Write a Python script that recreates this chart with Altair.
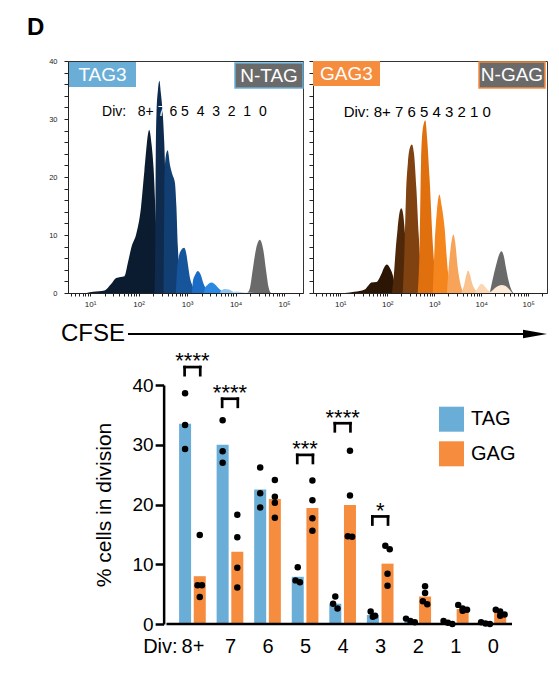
import math
import altair as alt
import pandas as pd

FONT = "Liberation Sans"

# ---------------- Histogram overlays (x = log10 CFSE, y = count) ----------------
TAG3_DIV_8P = [(0.93, 0), (1.06, 0.2), (1.30, 0.45), (1.43, 1.5), (1.54, 2.6), (1.71, 2.9), (1.78, 5.2),
               (1.86, 8.1), (1.95, 10.1), (2.05, 14.7), (2.12, 21.0), (2.22, 28.1), (2.27, 25.5),
               (2.31, 21.5), (2.36, 12.0), (2.42, 3.0), (2.46, 0)]
TAG3_DIV_7 = [(2.33, 0), (2.345, 10), (2.355, 24), (2.37, 31), (2.40, 35), (2.43, 36.6), (2.46, 34.5),
              (2.50, 30.8), (2.53, 26), (2.56, 18), (2.60, 8), (2.64, 2), (2.68, 0)]
TAG3_DIV_6 = [(2.515, 0), (2.525, 10), (2.535, 20), (2.56, 23.5), (2.60, 24.6), (2.65, 22), (2.70, 20.4),
              (2.75, 19.0), (2.78, 15), (2.81, 8), (2.84, 4), (2.88, 1), (2.92, 0)]
TAG3_DIV_5 = [(2.77, 0), (2.79, 3.5), (2.83, 6.2), (2.88, 7.4), (2.94, 7.8), (2.98, 7.0), (3.02, 4.8),
              (3.06, 2.6), (3.10, 1.5), (3.14, 0.6), (3.18, 0)]
TAG3_DIV_4 = [(3.10, 0), (3.12, 2.0), (3.16, 3.0), (3.22, 3.8), (3.28, 3.2), (3.34, 1.6), (3.38, 0.9),
              (3.42, 0.5), (3.46, 0)]
TAG3_DIV_3 = [(3.35, 0), (3.37, 0.9), (3.42, 1.4), (3.50, 1.8), (3.56, 1.6), (3.63, 1.0), (3.69, 0.5),
              (3.74, 0.2), (3.78, 0)]
TAG3_DIV_2 = [(3.68, 0), (3.70, 0.4), (3.78, 0.7), (3.86, 0.6), (3.93, 0.3), (4.00, 0.1), (4.04, 0)]
TAG3_DIV_1 = [(3.90, 0), (4.02, 0.25), (4.14, 0.15), (4.24, 0)]
TAG3_DIV_0 = [(4.10, 0), (4.25, 0.08), (4.40, 0)]
N_TAG = [(4.24, 0), (4.30, 1.0), (4.35, 3.8), (4.42, 7.5), (4.50, 9.2), (4.57, 7.5), (4.63, 3.8),
         (4.68, 1.0), (4.73, 0)]

GAG3_DIV_8P = [(1.10, 0), (1.30, 0.2), (1.52, 0.6), (1.60, 1.3), (1.66, 1.8), (1.77, 1.9), (1.87, 3.2),
               (1.94, 4.5), (1.99, 4.9), (2.05, 4.4), (2.12, 3.0), (2.17, 1.0), (2.20, 0)]
GAG3_DIV_7 = [(2.10, 0), (2.14, 3), (2.18, 7.5), (2.22, 11), (2.26, 13.8), (2.30, 14.6), (2.34, 13.5),
              (2.38, 10), (2.43, 5), (2.48, 1.5), (2.52, 0)]
GAG3_DIV_6 = [(2.33, 0), (2.37, 8.4), (2.40, 17), (2.44, 22.5), (2.48, 25), (2.525, 25.6), (2.57, 24),
              (2.62, 18), (2.67, 10), (2.72, 3.5), (2.77, 0)]
GAG3_DIV_5 = [(2.65, 0), (2.69, 8.4), (2.72, 22.8), (2.76, 28.5), (2.81, 29.8), (2.85, 26.5), (2.90, 19.9),
              (2.97, 8.4), (3.02, 3), (3.07, 0)]
GAG3_DIV_4 = [(2.97, 0), (3.01, 8.4), (3.05, 13.5), (3.11, 17), (3.16, 15), (3.22, 11.3), (3.29, 3.8),
              (3.34, 1), (3.38, 0)]
GAG3_DIV_3 = [(3.27, 0), (3.32, 5.5), (3.37, 9), (3.41, 10.1), (3.45, 8.5), (3.50, 4.4), (3.56, 1.5), (3.62, 0)]
GAG3_DIV_2 = [(3.58, 0), (3.64, 1.5), (3.68, 3.0), (3.72, 3.9), (3.76, 3.2), (3.81, 1.6), (3.87, 0.6), (3.93, 0)]
GAG3_DIV_1 = [(3.86, 0), (3.93, 0.9), (4.00, 1.6), (4.06, 1.3), (4.13, 0.6), (4.20, 0.2), (4.26, 0)]
GAG3_DIV_0 = [(4.18, 0), (4.26, 0.6), (4.34, 1.1), (4.43, 1.4), (4.52, 1.2), (4.60, 0.6), (4.66, 0)]
N_GAG = [(4.18, 0), (4.25, 2.6), (4.32, 4.9), (4.38, 6.6), (4.43, 7.2), (4.48, 6.4), (4.53, 4.2),
         (4.58, 2.2), (4.63, 0.8), (4.68, 0)]

HIST_TICK_VALUES = [1, 2, 3, 4, 5]
HIST_TICK_LABELS = ["10\u00b9", "10\u00b2", "10\u00b3", "10\u2074", "10\u2075"]
NB = "\u00a0"
TAG_HEADER_A = "Div:" + NB * 3 + "8+"
TAG_HEADER_7 = "7"
TAG_HEADER_B = "6" + NB + "5" + NB * 2 + "4" + NB * 2 + "3" + NB * 2 + "2" + NB * 2 + "1" + NB * 2 + "0"
GAG_HEADER = NB.join(["Div:", "8+", "7", "6", "5", "4", "3", "2", "1", "0"])

# ---------------- Bar chart: % cells in each division ----------------
DIVISIONS = ["8+", "7", "6", "5", "4", "3", "2", "1", "0"]
TAG_MEAN = [33.5, 30.0, 22.5, 7.9, 3.4, 1.5, 0.6, 0.3, 0.15]
GAG_MEAN = [8.0, 12.1, 20.9, 19.4, 19.9, 10.1, 4.6, 2.5, 1.9]
TAG_REPS = [[38.6, 33.3, 29.3], [34.1, 28.9, 27.0], [26.2, 21.9, 19.5], [9.5, 7.3, 7.0], [4.6, 3.4, 2.6],
            [2.1, 1.4, 1.2], [0.9, 0.5, 0.3], [0.5, 0.2, 0.0], [0.3, 0.1, 0.0]]
GAG_REPS = [[14.9, 6.5, 6.5, 4.5], [18.3, 14.5, 9.4, 6.1], [24.1, 21.3, 20.3, 17.8], [24.0, 20.7, 17.7, 15.6],
            [29.0, 21.5, 14.7, 14.6], [13.1, 12.5, 8.4, 6.4], [6.3, 5.2, 3.8, 3.3], [3.2, 2.6, 2.4, 2.2],
            [2.4, 2.1, 1.6, 1.4]]
SIG_DIVISIONS = ["8+", "7", "5", "4", "3"]
SIG_STARS = ["****", "****", "***", "****", "*"]
SIG_BRACKET_TOP = [43.0, 37.7, 28.3, 33.6, 18.0]

# ---------------- styles ----------------
TAG_SHADES = ["#0b1b30", "#0e2b4e", "#123f73", "#16559c", "#1b6cc4", "#2b89e4", "#8dc2f0", "#b5d7f6", "#d6e9fa"]
GAG_SHADES = ["#2b1606", "#4f2809", "#7f4210", "#e0700e", "#f5861e", "#f8a35a", "#fac28e", "#fcd7b5", "#fdebd9"]
CONTROL_GRAY = "#6a6a6a"
BLUE = "#6aaed8"
ORANGE = "#f68c3e"

HIST_W_L, HIST_W_R, HIST_H = 235, 234, 232
GAP_HIST_TO_BARS = 92
W_BAR, H_BAR = 449, 239
XMIN, XMAX = -3.18, 8.51
YAXIS_AT = -0.69
STEP_PX = W_BAR / (XMAX - XMIN)
BAR_SHIFT = 7.5 / STEP_PX


def label_expr(values, labels):
    expr = "''"
    for v, l in reversed(list(zip(values, labels))):
        expr = f"datum.value == {v} ? '{l}' : {expr}"
    return expr


ONE = pd.DataFrame({"a": [0]})


def note_text(text, x, y, size, color="black", weight="normal", align="left", baseline="middle"):
    return alt.Chart(ONE).mark_text(text=text, font=FONT, fontSize=size, color=color, fontWeight=weight,
                                    align=align, baseline=baseline).encode(x=alt.value(x), y=alt.value(y))


def note_box(x0, x1, y0, y1, fill, stroke=None):
    kw = {"fill": fill}
    if stroke:
        kw.update(stroke=stroke, strokeWidth=1.5)
    return alt.Chart(ONE).mark_rect(**kw).encode(x=alt.value(x0), x2=alt.value(x1),
                                                 y=alt.value(y0), y2=alt.value(y1))


def hist_panel(curves, shades, control, xdom, ylabels):
    xs = alt.Scale(domain=xdom, nice=False, zero=False)
    ys = alt.Scale(domain=[0, 40], nice=False)
    ticks = sorted(set(round(n + math.log10(k), 4) for n in range(0, 6) for k in range(1, 10)))
    ticks = [t for t in ticks if xdom[0] <= t <= xdom[1]]
    xaxis = alt.Axis(values=ticks, labelExpr=label_expr(HIST_TICK_VALUES, HIST_TICK_LABELS), title=None,
                     grid=False, tickSize=3, tickColor="#222", domainColor="#222", labelFontSize=8,
                     labelColor="#222", labelPadding=4, labelOverlap=False, labelFlush=False)
    yaxis = alt.Axis(values=list(range(0, 41, 2)), labelExpr="datum.value % 10 == 0 ? datum.label : ''",
                     labels=ylabels, title=None, grid=False, tickSize=4, tickColor="#222", domainColor="#222",
                     labelFontSize=7.5, labelColor="#222", labelPadding=7)
    layers = []
    for pts, col in [(control, CONTROL_GRAY)] + list(zip(curves, shades)):
        df = pd.DataFrame(pts, columns=["logx", "count"])
        layers.append(alt.Chart(df).mark_area(color=col, interpolate="monotone").encode(
            x=alt.X("logx:Q", scale=xs, axis=xaxis),
            y=alt.Y("count:Q", scale=ys, axis=yaxis, stack=None)))
    return layers


# ---- left histogram (TAG3) ----
tag_layers = hist_panel([TAG3_DIV_8P, TAG3_DIV_7, TAG3_DIV_6, TAG3_DIV_5, TAG3_DIV_4, TAG3_DIV_3,
                         TAG3_DIV_2, TAG3_DIV_1, TAG3_DIV_0], TAG_SHADES, N_TAG, [0.546, 5.39], True)
tag_layers += [
    note_text(TAG_HEADER_A, 85.8, 51, 14, align="right"),
    note_text(TAG_HEADER_7, 89.7, 51, 14, color="white"),
    note_text(TAG_HEADER_B, 101.4, 51, 14),
    note_box(1, 68, 1, 26, BLUE),
    note_text("TAG3", 34.5, 13.5, 19, color="white", align="center"),
    note_box(167, 235, 2, 27, CONTROL_GRAY, stroke=BLUE),
    note_text("N-TAG", 201, 14.5, 19, color="white", align="center"),
    note_text("D", -41, -26, 24, weight="bold", baseline="alphabetic"),
    note_text("CFSE", -7, 273, 24),
    alt.Chart(ONE).mark_rule(color="black", strokeWidth=2).encode(
        x=alt.value(60), x2=alt.value(462), y=alt.value(273)),
    alt.Chart(ONE).mark_point(shape="M-1,-0.36L1,0L-1,0.36Z", size=576, filled=True, color="black",
                              opacity=1).encode(x=alt.value(467), y=alt.value(273)),
    alt.Chart(ONE).mark_rect(color="white").encode(x=alt.value(-59), x2=alt.value(-58),
                                                   y=alt.value(-52), y2=alt.value(-51)),
]
hist_tag = alt.layer(*tag_layers).properties(
    width=HIST_W_L, height=HIST_H, view=alt.ViewBackground(stroke="#333", strokeWidth=1))

# ---- right histogram (GAG3) ----
gag_layers = hist_panel([GAG3_DIV_8P, GAG3_DIV_7, GAG3_DIV_6, GAG3_DIV_5, GAG3_DIV_4, GAG3_DIV_3,
                         GAG3_DIV_2, GAG3_DIV_1, GAG3_DIV_0], GAG_SHADES, N_GAG, [0.42, 5.40], False)
gag_layers += [
    note_text(GAG_HEADER, 30.7, 51.2, 15),
    note_box(0, 67, 0, 25, ORANGE),
    note_text("GAG3", 33.5, 12.5, 19, color="white", align="center"),
    note_box(166, 232, 1, 27, CONTROL_GRAY, stroke=ORANGE),
    note_text("N-GAG", 199, 14, 19, color="white", align="center"),
]
hist_gag = alt.layer(*gag_layers).properties(
    width=HIST_W_R, height=HIST_H, view=alt.ViewBackground(stroke="#333", strokeWidth=1))

# ---------------- bar chart ----------------
bar_rows, dot_rows = [], []


def jitter(vals, spread_px=4.5, close=0.9):
    offs = [0.0] * len(vals)
    used = [False] * len(vals)
    for a in range(len(vals)):
        if used[a]:
            continue
        grp = [b for b in range(len(vals)) if not used[b] and abs(vals[b] - vals[a]) < close]
        for j, b in enumerate(grp):
            used[b] = True
            offs[b] = (j - (len(grp) - 1) / 2) * spread_px
    return offs


for i, d in enumerate(DIVISIONS):
    for series, means, reps, sign in [("TAG", TAG_MEAN, TAG_REPS, -1), ("GAG", GAG_MEAN, GAG_REPS, 1)]:
        center = i + sign * BAR_SHIFT
        bar_rows.append({"division": d, "series": series, "value": means[i], "xpos": center})
        for v, off in zip(reps[i], jitter(reps[i])):
            dot_rows.append({"division": d, "series": series, "value": v, "xpos": center + off / STEP_PX})
bars_df = pd.DataFrame(bar_rows)
dots_df = pd.DataFrame(dot_rows)

seg_rows, star_rows = [], []
half = 8.0 / STEP_PX
leg = 1.35
for d, s, top in zip(SIG_DIVISIONS, SIG_STARS, SIG_BRACKET_TOP):
    i = DIVISIONS.index(d)
    seg_rows.append({"x": i - half, "x2": i + half, "y": top, "y2": top})
    seg_rows.append({"x": i - half, "x2": i - half, "y": top, "y2": top - leg})
    seg_rows.append({"x": i + half, "x2": i + half, "y": top, "y2": top - leg})
    star_rows.append({"x": float(i), "y": top, "label": s})
seg_df = pd.DataFrame(seg_rows)
star_df = pd.DataFrame(star_rows)
axis_line_df = pd.DataFrame({"x": [YAXIS_AT], "x2": [XMAX], "y": [0.0]})

XS = alt.Scale(domain=[XMIN, XMAX], nice=False, zero=False)
YS = alt.Scale(domain=[0, 40], nice=False)
XAXIS = alt.Axis(values=[-0.867] + list(range(9)),
                 labelExpr=label_expr([-0.867] + list(range(9)), ["Div:"] + DIVISIONS),
                 domain=False, ticks=False, grid=False, title=None, labelPadding=12, labelFontSize=20,
                 labelColor="black", labelOverlap=False, labelFlush=False)
YAXIS = alt.Axis(values=[0, 10, 20, 30, 40], offset=-(YAXIS_AT - XMIN) * STEP_PX, grid=False,
                 title="% cells in division", titleFontSize=21, titleFontWeight="normal", titleColor="black",
                 titlePadding=18, labelFontSize=19, labelColor="black", labelPadding=2, tickSize=8.5,
                 tickWidth=2.5, tickColor="black", domainColor="black", domainWidth=2.5)

# legends of concatenated views are positioned from the top-level origin (top-left of the TAG3 panel)
bars = alt.Chart(bars_df).mark_bar(size=12).encode(
    x=alt.X("xpos:Q", scale=XS, axis=XAXIS),
    y=alt.Y("value:Q", scale=YS, axis=YAXIS),
    color=alt.Color("series:N", scale=alt.Scale(domain=["TAG", "GAG"], range=[BLUE, ORANGE]),
                    legend=alt.Legend(title=None, orient="none", legendX=371,
                                      legendY=HIST_H + GAP_HIST_TO_BARS + 21.7,
                                      symbolType="square", symbolSize=625, symbolStrokeWidth=0,
                                      symbolOpacity=1, labelFontSize=20, labelFont=FONT, labelColor="black",
                                      rowPadding=9.6, labelOffset=7, padding=0, symbolOffset=0)))
dots = alt.Chart(dots_df).mark_circle(size=42, color="black", opacity=1).encode(
    x=alt.X("xpos:Q", scale=XS, axis=XAXIS), y=alt.Y("value:Q", scale=YS, axis=YAXIS))
axis_line = alt.Chart(axis_line_df).mark_rule(color="black", strokeWidth=2.5).encode(
    x=alt.X("x:Q", scale=XS, axis=XAXIS), x2="x2:Q", y=alt.Y("y:Q", scale=YS, axis=YAXIS))
brackets = alt.Chart(seg_df).mark_rule(color="black", strokeWidth=2.7, strokeCap="square").encode(
    x=alt.X("x:Q", scale=XS, axis=XAXIS), x2="x2:Q",
    y=alt.Y("y:Q", scale=YS, axis=YAXIS), y2="y2:Q")
stars = alt.Chart(star_df).mark_text(font=FONT, fontSize=22, baseline="alphabetic", align="center",
                                     dy=1.3, color="black").encode(
    x=alt.X("x:Q", scale=XS, axis=XAXIS), y=alt.Y("y:Q", scale=YS, axis=YAXIS), text="label:N")

bar_chart = alt.layer(bars, dots, axis_line, brackets, stars).properties(width=W_BAR, height=H_BAR)

# A nested concat has no flush height of its own, so the row gap includes the histogram height.
top = alt.hconcat(hist_tag, hist_gag, spacing=10, bounds="flush")
chart = alt.vconcat(top, bar_chart, spacing=HIST_H + GAP_HIST_TO_BARS, bounds="flush", padding=0).configure_view(
    strokeWidth=0).configure_axis(labelFont=FONT, titleFont=FONT).configure_text(font=FONT)

chart.save("out.html", embed_options={"renderer": "svg", "actions": False})
